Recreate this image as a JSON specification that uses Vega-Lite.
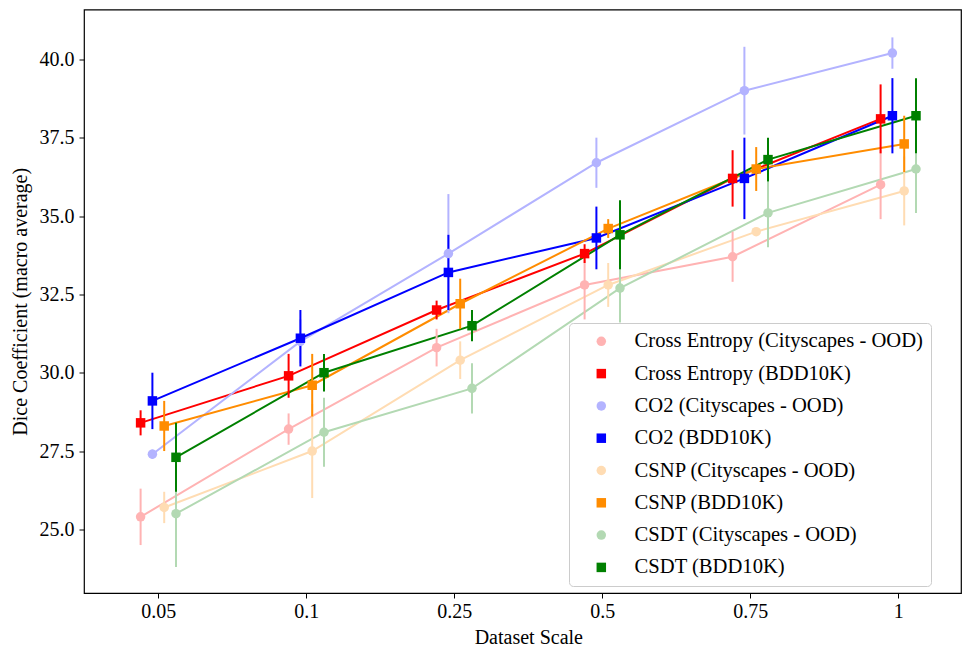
{
  "$schema": "https://vega.github.io/schema/vega-lite/v6.json",
  "width": 877,
  "height": 583.5,
  "autosize": {"type": "none"},
  "padding": {"left": 84, "top": 9.5, "right": 1, "bottom": 55},
  "background": "white",
  "config": {
    "view": {"stroke": "black", "strokeWidth": 1.2},
    "font": "Liberation Serif",
    "axis": {
      "labelFont": "Liberation Serif",
      "titleFont": "Liberation Serif",
      "labelFontSize": 20,
      "titleFontSize": 20,
      "labelColor": "black",
      "titleColor": "black",
      "titleFontWeight": "normal",
      "tickColor": "black",
      "tickSize": 5,
      "tickWidth": 1,
      "domain": false,
      "grid": false
    }
  },
  "data": {
    "values": [
      {"series": "Cross Entropy (Cityscapes - OOD)", "method": "CE", "scale": "0.05", "v": 25.4, "lo": 24.5, "hi": 26.3},
      {"series": "Cross Entropy (Cityscapes - OOD)", "method": "CE", "scale": "0.1", "v": 28.2, "lo": 27.7, "hi": 28.7},
      {"series": "Cross Entropy (Cityscapes - OOD)", "method": "CE", "scale": "0.25", "v": 30.8, "lo": 30.2, "hi": 31.4},
      {"series": "Cross Entropy (Cityscapes - OOD)", "method": "CE", "scale": "0.5", "v": 32.8, "lo": 31.7, "hi": 33.6},
      {"series": "Cross Entropy (Cityscapes - OOD)", "method": "CE", "scale": "0.75", "v": 33.7, "lo": 32.9, "hi": 34.5},
      {"series": "Cross Entropy (Cityscapes - OOD)", "method": "CE", "scale": "1", "v": 36.0, "lo": 34.9, "hi": 37.1},
      {"series": "Cross Entropy (BDD10K)", "method": "CE", "scale": "0.05", "v": 28.4, "lo": 28.0, "hi": 28.8},
      {"series": "Cross Entropy (BDD10K)", "method": "CE", "scale": "0.1", "v": 29.9, "lo": 29.2, "hi": 30.6},
      {"series": "Cross Entropy (BDD10K)", "method": "CE", "scale": "0.25", "v": 32.0, "lo": 31.7, "hi": 32.3},
      {"series": "Cross Entropy (BDD10K)", "method": "CE", "scale": "0.5", "v": 33.8, "lo": 33.5, "hi": 34.1},
      {"series": "Cross Entropy (BDD10K)", "method": "CE", "scale": "0.75", "v": 36.2, "lo": 35.3, "hi": 37.1},
      {"series": "Cross Entropy (BDD10K)", "method": "CE", "scale": "1", "v": 38.1, "lo": 37.0, "hi": 39.2},
      {"series": "CO2 (Cityscapes - OOD)", "method": "CO2", "scale": "0.05", "v": 27.4, "lo": 27.25, "hi": 27.55},
      {"series": "CO2 (Cityscapes - OOD)", "method": "CO2", "scale": "0.1", "v": 31.0, "lo": 30.3, "hi": 31.7},
      {"series": "CO2 (Cityscapes - OOD)", "method": "CO2", "scale": "0.25", "v": 33.8, "lo": 31.9, "hi": 35.7},
      {"series": "CO2 (Cityscapes - OOD)", "method": "CO2", "scale": "0.5", "v": 36.7, "lo": 35.9, "hi": 37.5},
      {"series": "CO2 (Cityscapes - OOD)", "method": "CO2", "scale": "0.75", "v": 39.0, "lo": 37.6, "hi": 40.4},
      {"series": "CO2 (Cityscapes - OOD)", "method": "CO2", "scale": "1", "v": 40.2, "lo": 39.7, "hi": 40.7},
      {"series": "CO2 (BDD10K)", "method": "CO2", "scale": "0.05", "v": 29.1, "lo": 28.2, "hi": 30.0},
      {"series": "CO2 (BDD10K)", "method": "CO2", "scale": "0.1", "v": 31.1, "lo": 30.2, "hi": 32.0},
      {"series": "CO2 (BDD10K)", "method": "CO2", "scale": "0.25", "v": 33.2, "lo": 32.0, "hi": 34.4},
      {"series": "CO2 (BDD10K)", "method": "CO2", "scale": "0.5", "v": 34.3, "lo": 33.3, "hi": 35.3},
      {"series": "CO2 (BDD10K)", "method": "CO2", "scale": "0.75", "v": 36.2, "lo": 34.9, "hi": 37.5},
      {"series": "CO2 (BDD10K)", "method": "CO2", "scale": "1", "v": 38.2, "lo": 37.0, "hi": 39.4},
      {"series": "CSNP (Cityscapes - OOD)", "method": "CSNP", "scale": "0.05", "v": 25.7, "lo": 25.2, "hi": 26.2},
      {"series": "CSNP (Cityscapes - OOD)", "method": "CSNP", "scale": "0.1", "v": 27.5, "lo": 26.0, "hi": 29.0},
      {"series": "CSNP (Cityscapes - OOD)", "method": "CSNP", "scale": "0.25", "v": 30.4, "lo": 29.8, "hi": 31.0},
      {"series": "CSNP (Cityscapes - OOD)", "method": "CSNP", "scale": "0.5", "v": 32.8, "lo": 32.1, "hi": 33.5},
      {"series": "CSNP (Cityscapes - OOD)", "method": "CSNP", "scale": "0.75", "v": 34.5, "lo": 34.4, "hi": 34.6},
      {"series": "CSNP (Cityscapes - OOD)", "method": "CSNP", "scale": "1", "v": 35.8, "lo": 34.7, "hi": 36.9},
      {"series": "CSNP (BDD10K)", "method": "CSNP", "scale": "0.05", "v": 28.3, "lo": 27.5, "hi": 29.1},
      {"series": "CSNP (BDD10K)", "method": "CSNP", "scale": "0.1", "v": 29.6, "lo": 28.6, "hi": 30.6},
      {"series": "CSNP (BDD10K)", "method": "CSNP", "scale": "0.25", "v": 32.2, "lo": 31.4, "hi": 33.0},
      {"series": "CSNP (BDD10K)", "method": "CSNP", "scale": "0.5", "v": 34.6, "lo": 34.3, "hi": 34.9},
      {"series": "CSNP (BDD10K)", "method": "CSNP", "scale": "0.75", "v": 36.5, "lo": 35.8, "hi": 37.2},
      {"series": "CSNP (BDD10K)", "method": "CSNP", "scale": "1", "v": 37.3, "lo": 36.4, "hi": 38.2},
      {"series": "CSDT (Cityscapes - OOD)", "method": "CSDT", "scale": "0.05", "v": 25.5, "lo": 23.8, "hi": 27.2},
      {"series": "CSDT (Cityscapes - OOD)", "method": "CSDT", "scale": "0.1", "v": 28.1, "lo": 27.0, "hi": 29.2},
      {"series": "CSDT (Cityscapes - OOD)", "method": "CSDT", "scale": "0.25", "v": 29.5, "lo": 28.7, "hi": 30.3},
      {"series": "CSDT (Cityscapes - OOD)", "method": "CSDT", "scale": "0.5", "v": 32.7, "lo": 31.6, "hi": 33.8},
      {"series": "CSDT (Cityscapes - OOD)", "method": "CSDT", "scale": "0.75", "v": 35.1, "lo": 34.0, "hi": 36.1},
      {"series": "CSDT (Cityscapes - OOD)", "method": "CSDT", "scale": "1", "v": 36.5, "lo": 35.1, "hi": 37.9},
      {"series": "CSDT (BDD10K)", "method": "CSDT", "scale": "0.05", "v": 27.3, "lo": 26.2, "hi": 28.4},
      {"series": "CSDT (BDD10K)", "method": "CSDT", "scale": "0.1", "v": 30.0, "lo": 29.4, "hi": 30.6},
      {"series": "CSDT (BDD10K)", "method": "CSDT", "scale": "0.25", "v": 31.5, "lo": 31.0, "hi": 32.0},
      {"series": "CSDT (BDD10K)", "method": "CSDT", "scale": "0.5", "v": 34.4, "lo": 33.3, "hi": 35.5},
      {"series": "CSDT (BDD10K)", "method": "CSDT", "scale": "0.75", "v": 36.8, "lo": 36.1, "hi": 37.5},
      {"series": "CSDT (BDD10K)", "method": "CSDT", "scale": "1", "v": 38.2, "lo": 37.0, "hi": 39.4}
    ]
  },
  "encoding": {
    "x": {
      "field": "scale",
      "type": "ordinal",
      "sort": ["0.05", "0.1", "0.25", "0.5", "0.75", "1"],
      "scale": {"type": "point", "range": [74.3, 814.3], "padding": 0},
      "axis": {"title": "Dataset Scale", "labelAngle": 0, "labelPadding": 3, "titlePadding": 6}
    },
    "xOffset": {
      "field": "method",
      "type": "nominal",
      "sort": ["CE", "CO2", "CSNP", "CSDT"],
      "scale": {"type": "point", "range": [-17.7, 17.7], "padding": 0}
    },
    "color": {
      "field": "series",
      "type": "nominal",
      "scale": {
        "domain": ["Cross Entropy (Cityscapes - OOD)", "Cross Entropy (BDD10K)", "CO2 (Cityscapes - OOD)", "CO2 (BDD10K)", "CSNP (Cityscapes - OOD)", "CSNP (BDD10K)", "CSDT (Cityscapes - OOD)", "CSDT (BDD10K)"],
        "range": ["#ffb3b3", "#ff0000", "#b3b3ff", "#0000ff", "#ffdcb3", "#ff8c00", "#b3d9b3", "#008000"]
      },
      "legend": {
        "title": null,
        "orient": "none",
        "legendX": 485,
        "legendY": 313.5,
        "fillColor": "rgba(255,255,255,0.85)",
        "strokeColor": "#cccccc",
        "cornerRadius": 4,
        "padding": 8,
        "rowPadding": 11.3,
        "labelFont": "Liberation Serif",
        "labelFontSize": 20.6,
        "labelColor": "black",
        "labelLimit": 400,
        "labelOffset": 23,
        "labelExpr": "datum.label + '\u00a0\u00a0\u00a0\u00a0\u00a0'",
        "symbolOffset": 14,
        "symbolSize": 90,
        "symbolStrokeWidth": 0,
        "symbolOpacity": 1
      }
    }
  },
  "layer": [
    {
      "mark": {"type": "line", "strokeWidth": 2},
      "encoding": {
        "y": {
          "field": "v",
          "type": "quantitative",
          "scale": {"domain": [22.97, 41.59], "nice": false, "zero": false},
          "axis": {
            "title": "Dice Coefficient (macro average)",
            "values": [25, 27.5, 30, 32.5, 35, 37.5, 40],
            "format": ".1f",
            "labelPadding": 5,
            "titlePadding": 9
          }
        }
      }
    },
    {
      "mark": {"type": "rule", "strokeWidth": 2},
      "encoding": {
        "y": {"field": "lo", "type": "quantitative"},
        "y2": {"field": "hi"}
      }
    },
    {
      "mark": {"type": "point", "filled": true, "opacity": 1, "size": 90},
      "encoding": {
        "y": {"field": "v", "type": "quantitative"},
        "shape": {
          "field": "series",
          "type": "nominal",
          "scale": {
            "domain": ["Cross Entropy (Cityscapes - OOD)", "Cross Entropy (BDD10K)", "CO2 (Cityscapes - OOD)", "CO2 (BDD10K)", "CSNP (Cityscapes - OOD)", "CSNP (BDD10K)", "CSDT (Cityscapes - OOD)", "CSDT (BDD10K)"],
            "range": ["circle", "square", "circle", "square", "circle", "square", "circle", "square"]
          }
        }
      }
    }
  ]
}
